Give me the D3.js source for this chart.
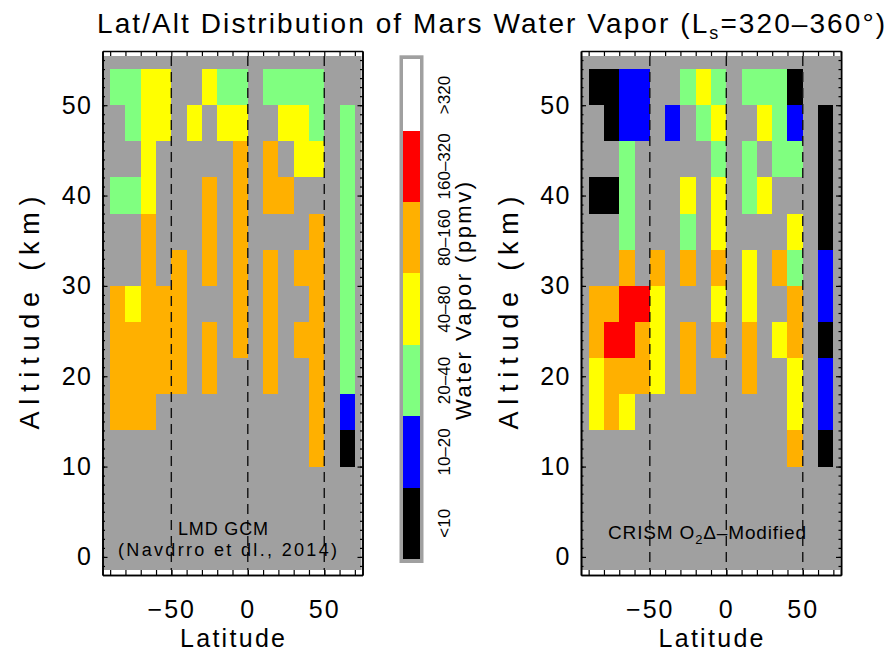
<!DOCTYPE html>
<html>
<head>
<meta charset="utf-8">
<script src="https://cdn.jsdelivr.net/npm/d3@7"></script>
<style>
  html, body { margin: 0; padding: 0; background: #fff; }
  svg text { font-family: "Liberation Sans", Arial, sans-serif; fill: #000; }
</style>
</head>
<body>
<svg id="chart" width="888" height="654"></svg>
<script>
// -1 = no data (gray)
const _ = -1;

// lower edges of the latitude / altitude bins
const latBins = [-90, -80, -70, -60, -50, -40, -30, -20, -10, 0, 10, 20, 30, 40, 50, 60];
const altBins = [50, 46, 42, 38, 34, 30, 26, 22, 18, 14, 10];

const levelLabels = ["<10", "10\u201320", "20\u201340", "40\u201380", "80\u2013160", "160\u2013320", ">320"];
const levelColors = ["#000000", "#0000ff", "#80ff80", "#ffff00", "#ffb000", "#ff0000", "#ffffff"];

// level index per cell, rows top (50-54 km) to bottom (10-14 km)
const gcmLevels = [
	[2, 2, 3, 3, _, _, 3, 2, 2, _, 2, 2, 2, 2, _, _],
	[_, 2, 3, 3, _, 3, _, 3, 3, _, _, 3, 3, 2, _, 2],
	[_, _, 3, _, _, _, _, _, 4, _, 4, _, 3, 3, _, 2],
	[2, 2, 3, _, _, _, 4, _, 4, _, 4, 4, _, _, _, 2],
	[_, _, 4, _, _, _, 4, _, 4, _, _, _, _, 4, _, 2],
	[_, _, 4, _, 4, _, 4, _, 4, _, 4, _, 4, 4, _, 2],
	[4, 3, 4, 4, 4, _, _, _, 4, _, 4, _, _, 4, _, 2],
	[4, 4, 4, 4, 4, _, 4, _, 4, _, 4, _, 4, 4, _, 2],
	[4, 4, 4, 4, 4, _, 4, _, _, _, 4, _, _, 4, _, 2],
	[4, 4, 4, _, _, _, _, _, _, _, _, _, _, 4, _, 1],
	[_, _, _, _, _, _, _, _, _, _, _, _, _, 4, _, 0],
];

const crismLevels = [
	[0, 0, 1, 1, _, _, 2, 3, 2, _, 2, 2, 2, 0, _, _],
	[_, 0, 1, 1, _, 1, _, 2, 3, _, _, 3, 2, 1, _, 0],
	[_, _, 2, _, _, _, _, _, 2, _, 2, _, 2, 2, _, 0],
	[0, 0, 2, _, _, _, 3, _, 3, _, 2, 3, _, _, _, 0],
	[_, _, 2, _, _, _, 2, _, 3, _, _, _, _, 3, _, 0],
	[_, _, 4, _, 4, _, 4, _, 4, _, 3, _, 4, 2, _, 1],
	[4, 4, 5, 5, 3, _, _, _, 3, _, 3, _, _, 4, _, 1],
	[4, 5, 5, 4, 3, _, 4, _, 4, _, 4, _, 3, 4, _, 0],
	[3, 4, 4, 4, 3, _, 4, _, _, _, 4, _, _, 3, _, 1],
	[3, 4, 3, _, _, _, _, _, _, _, _, _, _, 3, _, 1],
	[_, _, _, _, _, _, _, _, _, _, _, _, _, 4, _, 0],
];

const latTicks = [-50, 0, 50];
const altTicks = [0, 10, 20, 30, 40, 50];
const dashLats = [-50, 0, 50];

const LAT_STEP = 10, ALT_STEP = 4;
const NO_DATA = "#a0a0a0";
const svg = d3.select("#chart");

function drawPanel(left, levels, notes, ylabelX) {
	const x = d3.scaleLinear().domain([-95, 75]).range([left, left + 260]);
	const y = d3.scaleLinear().domain([-2, 56]).range([575, 51]);
	const g = svg.append("g");

	g.append("rect")
		.attr("x", x(-95) + 1)
		.attr("y", y(56) + 5)
		.attr("width", x(75) - x(-95) - 2)
		.attr("height", y(-2) - y(56) - 10)
		.attr("fill", NO_DATA);

	const cells = [];
	levels.forEach((row, i) => row.forEach((lv, j) => {
		if (lv >= 0) cells.push({lat: latBins[j], alt: altBins[i], lv});
	}));

	g.selectAll("rect.cell")
		.data(cells)
		.join("rect")
		.attr("class", "cell")
		.attr("x", d => x(d.lat))
		.attr("y", d => y(d.alt + ALT_STEP))
		.attr("width", d => x(d.lat + LAT_STEP) - x(d.lat))
		.attr("height", d => y(d.alt) - y(d.alt + ALT_STEP))
		.attr("fill", d => levelColors[d.lv])
		.attr("shape-rendering", "crispEdges");

	// dashed latitude markers
	g.selectAll("line.dash")
		.data(dashLats)
		.join("line")
		.attr("class", "dash")
		.attr("x1", d => x(d)).attr("x2", d => x(d))
		.attr("y1", y(56) + 5).attr("y2", y(-2) - 5)
		.attr("stroke", "#111")
		.attr("stroke-width", 1.4)
		.attr("stroke-dasharray", "10,6");

	// notes inside the panel
	notes(g, x, y);

	// axes: minor ticks
	const minorLat = d3.range(-90, 71, 10);
	const minorAlt = d3.range(-1, 56, 1);
	g.append("g").attr("transform", `translate(0,${y(-2)})`)
		.call(d3.axisBottom(x).tickValues(minorLat).tickSize(-5).tickSizeOuter(0).tickFormat(""));
	g.append("g").attr("transform", `translate(0,${y(56)})`)
		.call(d3.axisTop(x).tickValues(minorLat).tickSize(-5).tickSizeOuter(0).tickFormat(""));
	g.append("g").attr("transform", `translate(${x(-95)},0)`)
		.call(d3.axisLeft(y).tickValues(minorAlt).tickSize(-2.5).tickSizeOuter(0).tickFormat(""));
	g.append("g").attr("transform", `translate(${x(75)},0)`)
		.call(d3.axisRight(y).tickValues(minorAlt).tickSize(-2.5).tickSizeOuter(0).tickFormat(""));

	// labelled axes
	const xa = g.append("g").attr("transform", `translate(0,${y(-2)})`)
		.call(d3.axisBottom(x).tickValues(latTicks).tickSize(-5).tickSizeOuter(0).tickPadding(25))
		.attr("font-size", 25);
	xa.selectAll("text").attr("letter-spacing", 2);
	const ya = g.append("g").attr("transform", `translate(${x(-95)},0)`)
		.call(d3.axisLeft(y).tickValues(altTicks).tickSize(-5).tickSizeOuter(0).tickPadding(10))
		.attr("font-size", 25);
	ya.selectAll("text").attr("letter-spacing", 1.5);
	g.append("g").attr("transform", `translate(${x(75)},0)`)
		.call(d3.axisRight(y).tickValues(altTicks).tickSize(-5).tickSizeOuter(0).tickFormat(""));

	g.selectAll(".domain").attr("stroke-width", 1.6);
	g.selectAll(".tick line").attr("stroke-width", 1.2);

	g.append("text")
		.attr("x", (x(-95) + x(75)) / 2)
		.attr("y", 647)
		.attr("text-anchor", "middle")
		.attr("font-size", 25)
		.attr("textLength", 105)
		.attr("lengthAdjust", "spacing")
		.text("Latitude");

	g.append("text")
		.attr("transform", `translate(${ylabelX},${(y(-2) + y(56)) / 2}) rotate(-90)`)
		.attr("text-anchor", "middle")
		.attr("font-size", 27)
		.attr("textLength", 233)
		.attr("lengthAdjust", "spacing")
		.text("Altitude (km)");
}

drawPanel(102.5, gcmLevels, (g, x, y) => {
	g.append("text")
		.attr("x", 223).attr("y", 535)
		.attr("text-anchor", "middle")
		.attr("font-size", 18)
		.attr("textLength", 90).attr("lengthAdjust", "spacing")
		.text("LMD GCM");
	g.append("text")
		.attr("x", 227.5).attr("y", 556)
		.attr("text-anchor", "middle")
		.attr("font-size", 18)
		.attr("textLength", 219).attr("lengthAdjust", "spacing")
		.text("(Navdrro et dl., 2014)");
}, 39);

drawPanel(581, crismLevels, (g, x, y) => {
	const t = g.append("text")
		.attr("x", 707).attr("y", 539)
		.attr("text-anchor", "middle")
		.attr("font-size", 19)
		.attr("textLength", 198).attr("lengthAdjust", "spacing");
	t.append("tspan").text("CRISM O");
	t.append("tspan").attr("font-size", 13).attr("dy", 5).text("2");
	t.append("tspan").attr("dy", -5).text("\u0394\u2013Modified");
}, 518);

// colour bar
const cb = d3.scaleBand()
	.domain(d3.range(levelColors.length).reverse())
	.range([59.3, 559]);

svg.append("rect")
	.attr("x", 399.5).attr("y", 55.3)
	.attr("width", 24).attr("height", 507.7)
	.attr("fill", NO_DATA);

svg.selectAll("rect.cb")
	.data(cb.domain())
	.join("rect")
	.attr("class", "cb")
	.attr("x", 403).attr("y", d => cb(d))
	.attr("width", 17).attr("height", cb.bandwidth())
	.attr("fill", d => levelColors[d])
	.attr("shape-rendering", "crispEdges");

svg.selectAll("text.cbl")
	.data(cb.domain())
	.join("text")
	.attr("class", "cbl")
	.attr("transform", d => `translate(450,${cb(d) + cb.bandwidth() / 2}) rotate(-90)`)
	.attr("text-anchor", "middle")
	.attr("font-size", 17)
	.text(d => levelLabels[d]);

svg.append("text")
	.attr("transform", "translate(471,301) rotate(-90)")
	.attr("text-anchor", "middle")
	.attr("font-size", 22)
	.attr("textLength", 238).attr("lengthAdjust", "spacing")
	.text("Water Vapor (ppmv)");

// title
const title = svg.append("text")
	.attr("x", 491).attr("y", 33)
	.attr("text-anchor", "middle")
	.attr("font-size", 28)
	.attr("textLength", 788).attr("lengthAdjust", "spacing");
title.append("tspan").text("Lat/Alt Distribution of Mars Water Vapor (L");
title.append("tspan").attr("font-size", 18).attr("dy", 6).text("s");
title.append("tspan").attr("dy", -6).text("=320\u2013360\u00b0)");
</script>
</body>
</html>
